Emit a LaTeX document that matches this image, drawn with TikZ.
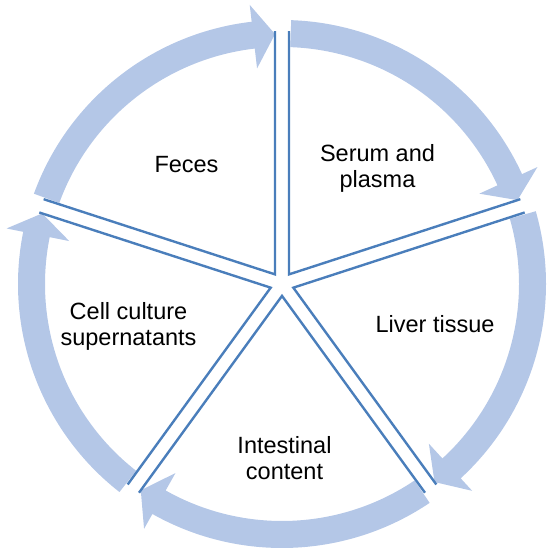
\documentclass[tikz,border=0pt]{standalone}
\usepackage{fontspec}
\setmainfont{Liberation Sans}
\usepackage{tikz}
\usetikzlibrary{calc}
\definecolor{bandblue}{RGB}{180,199,231}
\definecolor{lineblue}{RGB}{74,126,187}

\begin{document}
\begin{tikzpicture}[x=1bp,y=1bp,band arrow/.style={fill=bandblue},split line/.style={draw=lineblue,line width=2.4bp,line join=miter},label text/.style={font=\fontsize{23.5bp}{26bp}\selectfont,align=center,inner sep=0pt}]
			\useasboundingbox (-282,-274) rectangle (274,284);
			
			% Arrows
			\fill[band arrow] (160:264) arc[start angle=160, end angle=96.6, radius=264] -- (96.6:281) -- (91.6:250) -- (96.6:217) -- (96.6:237) arc[start angle=96.6, end angle=160, radius=237] -- cycle;
			\fill[band arrow] (88:264) arc[start angle=88, end angle=24.6, radius=264] -- (24.6:281) -- (19.6:250) -- (24.6:217) -- (24.6:237) arc[start angle=24.6, end angle=88, radius=237] -- cycle;
			\fill[band arrow] (16:264) arc[start angle=16, end angle=-47.4, radius=264] -- (-47.4:281) -- (-52.4:250) -- (-47.4:217) -- (-47.4:237) arc[start angle=-47.4, end angle=16, radius=237] -- cycle;
			\fill[band arrow] (-56:264) arc[start angle=-56, end angle=-119.4, radius=264] -- (-119.4:281) -- (-124.4:250) -- (-119.4:217) -- (-119.4:237) arc[start angle=-119.4, end angle=-56, radius=237] -- cycle;
			\fill[band arrow] (-128:264) arc[start angle=-128, end angle=-191.4, radius=264] -- (-191.4:281) -- (-196.4:250) -- (-191.4:217) -- (-191.4:237) arc[start angle=-191.4, end angle=-128, radius=237] -- cycle;
			
			% Sector edges
			\coordinate (v1) at (54:11.9);
			\coordinate (v2) at (-18:11.9);
			\coordinate (v3) at (-90:11.9);
			\coordinate (v4) at (-162:11.9);
			\coordinate (v5) at (126:11.9);
			
			\draw[split line] ($(90:252.9)+(0:7)$) -- (v1) -- ($(18:252.9)+(108:7)$);
			\draw[split line] ($(18:252.9)+(-72:7)$) -- (v2) -- ($(-54:252.9)+(36:7)$);
			\draw[split line] ($(-54:252.9)+(-144:7)$) -- (v3) -- ($(-126:252.9)+(-36:7)$);
			\draw[split line] ($(-126:252.9)+(-216:7)$) -- (v4) -- ($(162:252.9)+(-108:7)$);
			\draw[split line] ($(162:252.9)+(72:7)$) -- (v5) -- ($(90:252.9)+(180:7)$);
			
			% Labels
			\node[label text, anchor=base] (feces) at (-95.5,111) {Feces};
			\node[label text] (serum) at (95.5,116) {Serum and\\plasma};
			\node[label text, anchor=base] (liver) at (153,-49) {Liver tissue};
			\node[label text] (intestine) at (2.5,-174) {Intestinal\\content};
			\node[label text] (culture) at (-153.5,-42.7) {Cell culture\\supernatants};
			
		\end{tikzpicture}
\end{document}
